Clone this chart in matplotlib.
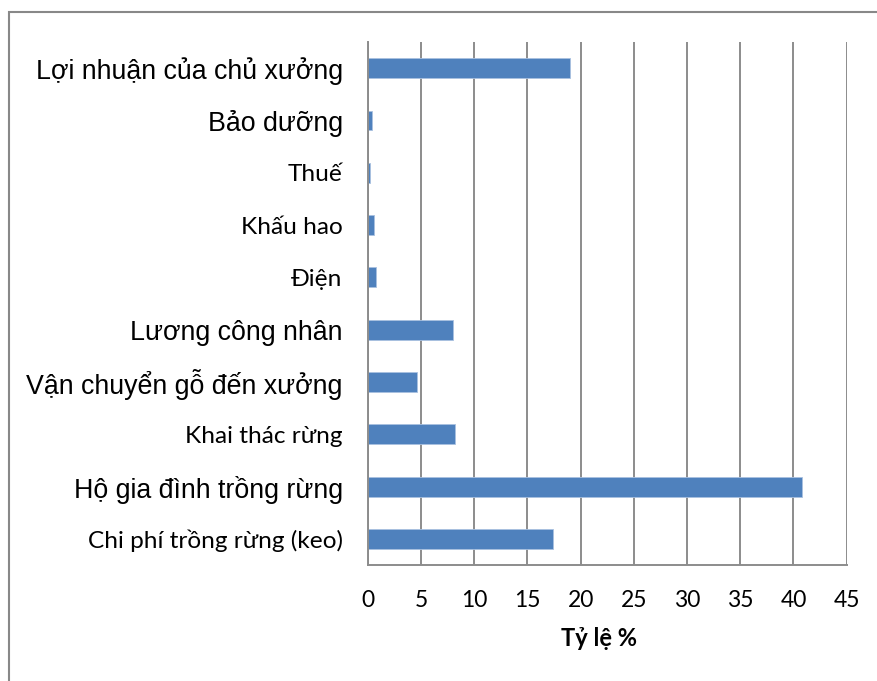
import matplotlib
matplotlib.use("Agg")
import matplotlib.pyplot as plt
from matplotlib.patches import Rectangle

# du lieu doc tu hinh (tu tren xuong duoi)
categories = [
    'Lợi nhuận của chủ xưởng', 'Bảo dưỡng', 'Thuế', 'Khấu hao', 'Điện',
    'Lương công nhân', 'Vận chuyển gỗ đến xưởng', 'Khai thác rừng',
    'Hộ gia đình trồng rừng', 'Chi phí trồng rừng (keo)',
]
values = [19.05, 0.37, 0.19, 0.62, 0.81, 8.05, 4.63, 8.2, 40.76, 17.44]
xticks = [0, 5, 10, 15, 20, 25, 30, 35, 40, 45]
xlabel = 'Tỷ lệ %'

# nhan nao dung font kieu Arial (con lai kieu Calibri)
arial_rows = {'Lợi nhuận của chủ xưởng', 'Bảo dưỡng', 'Lương công nhân',
              'Vận chuyển gỗ đến xưởng', 'Hộ gia đình trồng rừng'}

BAR = '#4F81BD'
GRID = '#8C8C8C'

fig = plt.figure(figsize=(8.78, 6.81), dpi=100)
ax = fig.add_axes([0.4188, 0.1703, 0.5455, 0.768])

ypos = list(range(len(categories)))
ax.barh(ypos, values, height=0.38, color=BAR, edgecolor='#A9C1E0', linewidth=0.6, zorder=3)
ax.set_ylim(len(categories) - 0.5, -0.5)
ax.set_xlim(0, 45)
ax.set_xticks(xticks)
ax.set_xticklabels([str(t) for t in xticks], fontfamily='Lato', fontsize=16.5)
ax.set_yticks(ypos)
ax.set_yticklabels(categories)
for lbl in ax.get_yticklabels():
    if lbl.get_text() in arial_rows:
        lbl.set_fontfamily('Liberation Sans')
        lbl.set_fontsize(19.3)
    else:
        lbl.set_fontfamily('Lato')
        lbl.set_fontsize(17.6)

ax.tick_params(axis='both', length=0)
ax.tick_params(axis='y', pad=18)
ax.tick_params(axis='x', pad=18)
ax.xaxis.grid(True, color=GRID, linewidth=1.4, zorder=0)
for s in ['top', 'right']:
    ax.spines[s].set_visible(False)
for s in ['left', 'bottom']:
    ax.spines[s].set_color(GRID)
    ax.spines[s].set_linewidth(1.4)
    ax.spines[s].set_zorder(4)

ax.set_xlabel(xlabel, fontfamily='Lato', fontweight='bold', fontsize=17)
ax.xaxis.set_label_coords(0.483, -0.118)

# khung ngoai cua bieu do
fig.patches.append(Rectangle((9 / 878, -0.1), 1.2, 1 - 12 / 681 + 0.1,
                             transform=fig.transFigure, fill=False,
                             edgecolor='#888888', linewidth=1.5))

fig.savefig('out.png', dpi=100)
